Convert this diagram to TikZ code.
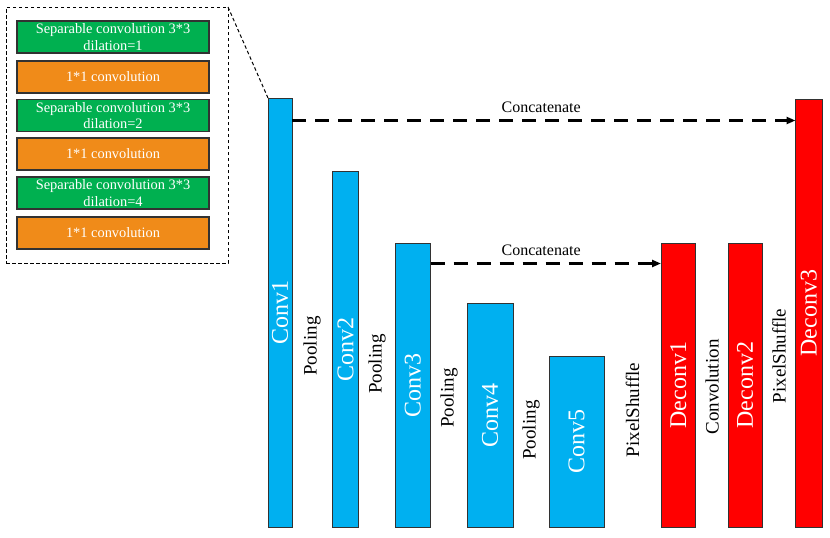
\documentclass[tikz,border=0pt]{standalone}
\usepackage{fontspec}
\setmainfont{Liberation Serif}
\usetikzlibrary{arrows.meta}
\definecolor{barblue}{RGB}{0,176,240}
\definecolor{barred}{RGB}{255,0,0}
\definecolor{boxgreen}{RGB}{0,176,80}
\definecolor{boxorange}{RGB}{240,139,25}
\definecolor{edge}{RGB}{50,50,50}
\tikzset{
  bar/.style={draw=edge, line width=1pt, inner sep=0pt, outer sep=0pt, anchor=south west},
  bluebar/.style={bar, fill=barblue},
  redbar/.style={bar, fill=barred},
  barlabel/.style={text=white, rotate=90, font=\fontsize{24}{28}\selectfont, inner sep=0pt},
  oplabel/.style={text=black, rotate=90, font=\fontsize{19}{22}\selectfont, inner sep=0pt},
  blk/.style={draw=edge, line width=1.3pt, minimum width=192pt, minimum height=32pt, inner sep=0pt,
    outer sep=0pt, align=center, text=white, font=\fontsize{14.4}{16.5}\selectfont},
  gbox/.style={blk, fill=boxgreen},
  obox/.style={blk, fill=boxorange},
  thindash/.style={draw=black, line width=1pt, dash pattern=on 3.5pt off 2.5pt},
  concat/.style={draw=black, line width=2.2pt, dash pattern=on 14pt off 9pt,
    -{Triangle[length=9pt,width=7pt]}},
  concatlabel/.style={font=\fontsize{16}{19}\selectfont, inner sep=0pt}
}
\begin{document}
\begin{tikzpicture}[x=1pt,y=-1pt]
\useasboundingbox (0,0) rectangle (830,538);
% left detail panel
\node[thindash, minimum width=222pt, minimum height=256pt, inner sep=0pt, outer sep=0pt, anchor=north west] (frame) at (6,7) {};
\node[gbox] (b1) at (113,37) {Separable convolution 3*3\\dilation=1};
\node[obox] (b2) at (113,77) {1*1 convolution};
\node[gbox] (b3) at (113,115.5) {Separable convolution 3*3\\dilation=2};
\node[obox] (b4) at (113,154) {1*1 convolution};
\node[gbox] (b5) at (113,193) {Separable convolution 3*3\\dilation=4};
\node[obox] (b6) at (113,233) {1*1 convolution};
% bars
\node[bluebar, minimum width=24pt, minimum height=429.5pt] (c1) at (268,527.5) {};
\node[bluebar, minimum width=26pt, minimum height=356.5pt] (c2) at (332.5,527.5) {};
\node[bluebar, minimum width=35.5pt, minimum height=284.5pt] (c3) at (395,527.5) {};
\node[bluebar, minimum width=46pt, minimum height=224.5pt] (c4) at (467,527.5) {};
\node[bluebar, minimum width=55pt, minimum height=171.5pt] (c5) at (549,527.5) {};
\node[redbar, minimum width=34.5pt, minimum height=284.5pt] (d1) at (661,527.5) {};
\node[redbar, minimum width=34pt, minimum height=284.5pt] (d2) at (728,527.5) {};
\node[redbar, minimum width=26.5pt, minimum height=428.5pt] (d3) at (795.5,527.5) {};
% bar labels
\node[barlabel] (lc1) at (c1.center) {Conv1};
\node[barlabel] (lc2) at (c2.center) {Conv2};
\node[barlabel] (lc3) at (c3.center) {Conv3};
\node[barlabel] (lc4) at (c4.center) {Conv4};
\node[barlabel] (lc5) at (c5.center) {Conv5};
\node[barlabel] (ld1) at (d1.center) {Deconv1};
\node[barlabel] (ld2) at (d2.center) {Deconv2};
\node[barlabel] (ld3) at (d3.center) {Deconv3};
% operation labels
\node[oplabel] (p1) at (312,346) {Pooling};
\node[oplabel] (p2) at (377,364) {Pooling};
\node[oplabel] (p3) at (449,398) {Pooling};
\node[oplabel] (p4) at (531,430) {Pooling};
\node[oplabel] (ps1) at (632.5,410) {PixelShuffle};
\node[oplabel] (cv) at (712,387) {Convolution};
\node[oplabel] (ps2) at (779,356) {PixelShuffle};
% zoom connector
\draw[thindash] (frame.north east) -- (c1.north west);
% concatenations
\coordinate (y1) at (0,120.5);
\coordinate (y2) at (0,263.5);
\draw[concat] (c1.east |- y1) -- node[concatlabel, pos=0.495, above=7pt] (t1) {Concatenate} (d3.west |- y1);
\draw[concat] (c3.east |- y2) -- node[concatlabel, pos=0.48, above=7pt] (t2) {Concatenate} (d1.west |- y2);
\end{tikzpicture}
\end{document}
